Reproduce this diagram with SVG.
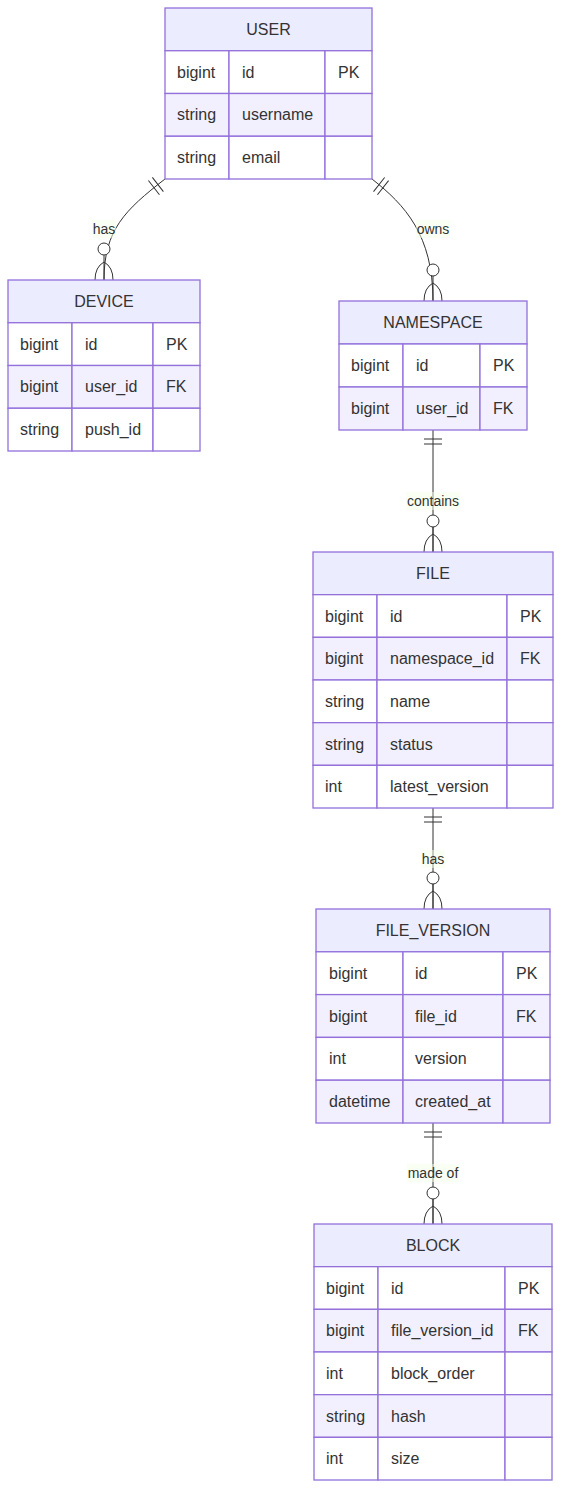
<svg xmlns="http://www.w3.org/2000/svg" width="561" height="1489" viewBox="0 0 561 1489">
<style>
.bg{fill:#ffffff}
.hd{fill:#ececff;stroke:#9370db;stroke-width:1.3}
.ra{fill:#ffffff;stroke:#9370db;stroke-width:1.3}
.rb{fill:#f2f0ff;stroke:#9370db;stroke-width:1.3}
.t{font-family:"Liberation Sans",Arial,Helvetica,sans-serif;font-size:16px;fill:#333333}
.c{text-anchor:middle}
.edge{fill:none;stroke:#333333;stroke-width:1}
.lb{fill:#f4ffe5;opacity:0.5}
.lt{font-family:"Liberation Sans",Arial,Helvetica,sans-serif;font-size:14px;fill:#333333;text-anchor:middle}
.mk{fill:none;stroke:#333333;stroke-width:1}
</style>
<defs>
<marker id="oneStart" markerUnits="userSpaceOnUse" viewBox="0 -10 20 20" refX="0" refY="0" markerWidth="20" markerHeight="20" orient="auto" overflow="visible">
<path class="mk" d="M9,-9 L9,9 M14,-9 L14,9"/>
</marker>
<marker id="zeroManyEnd" markerUnits="userSpaceOnUse" viewBox="-40 -10 42 20" refX="0" refY="0" markerWidth="42" markerHeight="20" orient="auto" overflow="visible">
<circle cx="-31" cy="0" r="6" fill="#ffffff" stroke="#333333" stroke-width="1"/>
<path class="mk" d="M-18,0 Q-13,-9 0,-9 M-18,0 Q-13,9 0,9 M-25,0 L0,0"/>
</marker>
</defs>
<rect class="bg" x="0" y="0" width="561" height="1489"/>

<g id="connectors">
<path class="edge" d="M165,179 C125,210 104,230 104,280" marker-start="url(#oneStart)" marker-end="url(#zeroManyEnd)"/>
<path class="edge" d="M372,179 C405,205 433,235 433,301" marker-start="url(#oneStart)" marker-end="url(#zeroManyEnd)"/>
<path class="edge" d="M433,430 L433,552" marker-start="url(#oneStart)" marker-end="url(#zeroManyEnd)"/>
<path class="edge" d="M433,808 L433,909" marker-start="url(#oneStart)" marker-end="url(#zeroManyEnd)"/>
<path class="edge" d="M433,1123 L433,1224" marker-start="url(#oneStart)" marker-end="url(#zeroManyEnd)"/>
<rect class="lb" x="92" y="220" width="24" height="18"/>
<text class="lt" x="104" y="234">has</text>
<rect class="lb" x="416" y="220" width="34" height="18"/>
<text class="lt" x="433" y="234">owns</text>
<rect class="lb" x="406" y="492" width="54" height="18"/>
<text class="lt" x="433" y="506">contains</text>
<rect class="lb" x="421" y="850" width="24" height="18"/>
<text class="lt" x="433" y="864">has</text>
<rect class="lb" x="407" y="1164" width="52" height="18"/>
<text class="lt" x="433" y="1178">made of</text>
</g>

<g id="USER" transform="translate(165,8)">
<rect class="hd" x="0" y="0" width="207" height="42.75"/>
<text class="t c" x="103.5" y="27">USER</text>
<rect class="ra" x="0" y="42.75" width="64" height="42.75"/><rect class="ra" x="64" y="42.75" width="96" height="42.75"/><rect class="ra" x="160" y="42.75" width="47" height="42.75"/>
<rect class="rb" x="0" y="85.5" width="64" height="42.75"/><rect class="rb" x="64" y="85.5" width="96" height="42.75"/><rect class="rb" x="160" y="85.5" width="47" height="42.75"/>
<rect class="ra" x="0" y="128.25" width="64" height="42.75"/><rect class="ra" x="64" y="128.25" width="96" height="42.75"/><rect class="ra" x="160" y="128.25" width="47" height="42.75"/>
<text class="t" x="12" y="69.6">bigint</text><text class="t" x="77" y="69.6">id</text><text class="t" x="173" y="69.6">PK</text>
<text class="t" x="12" y="112.4">string</text><text class="t" x="77" y="112.4">username</text>
<text class="t" x="12" y="155.1">string</text><text class="t" x="77" y="155.1">email</text>
</g>

<g id="DEVICE" transform="translate(8,280)">
<rect class="hd" x="0" y="0" width="192" height="42.75"/>
<text class="t c" x="96" y="27">DEVICE</text>
<rect class="ra" x="0" y="42.75" width="64" height="42.75"/><rect class="ra" x="64" y="42.75" width="81" height="42.75"/><rect class="ra" x="145" y="42.75" width="47" height="42.75"/>
<rect class="rb" x="0" y="85.5" width="64" height="42.75"/><rect class="rb" x="64" y="85.5" width="81" height="42.75"/><rect class="rb" x="145" y="85.5" width="47" height="42.75"/>
<rect class="ra" x="0" y="128.25" width="64" height="42.75"/><rect class="ra" x="64" y="128.25" width="81" height="42.75"/><rect class="ra" x="145" y="128.25" width="47" height="42.75"/>
<text class="t" x="12" y="69.6">bigint</text><text class="t" x="77" y="69.6">id</text><text class="t" x="158" y="69.6">PK</text>
<text class="t" x="12" y="112.4">bigint</text><text class="t" x="77" y="112.4">user_id</text><text class="t" x="158" y="112.4">FK</text>
<text class="t" x="12" y="155.1">string</text><text class="t" x="77" y="155.1">push_id</text>
</g>

<g id="NAMESPACE" transform="translate(339,301)">
<rect class="hd" x="0" y="0" width="188" height="43"/>
<text class="t c" x="94" y="27">NAMESPACE</text>
<rect class="ra" x="0" y="43" width="64" height="43"/><rect class="ra" x="64" y="43" width="77" height="43"/><rect class="ra" x="141" y="43" width="47" height="43"/>
<rect class="rb" x="0" y="86" width="64" height="43"/><rect class="rb" x="64" y="86" width="77" height="43"/><rect class="rb" x="141" y="86" width="47" height="43"/>
<text class="t" x="12" y="70">bigint</text><text class="t" x="77" y="70">id</text><text class="t" x="154" y="70">PK</text>
<text class="t" x="12" y="113">bigint</text><text class="t" x="77" y="113">user_id</text><text class="t" x="154" y="113">FK</text>
</g>

<g id="FILE" transform="translate(313,552)">
<rect class="hd" x="0" y="0" width="240" height="42.67"/>
<text class="t c" x="120" y="27">FILE</text>
<rect class="ra" x="0" y="42.67" width="64" height="42.67"/><rect class="ra" x="64" y="42.67" width="130" height="42.67"/><rect class="ra" x="194" y="42.67" width="46" height="42.67"/>
<rect class="rb" x="0" y="85.33" width="64" height="42.67"/><rect class="rb" x="64" y="85.33" width="130" height="42.67"/><rect class="rb" x="194" y="85.33" width="46" height="42.67"/>
<rect class="ra" x="0" y="128" width="64" height="42.67"/><rect class="ra" x="64" y="128" width="130" height="42.67"/><rect class="ra" x="194" y="128" width="46" height="42.67"/>
<rect class="rb" x="0" y="170.67" width="64" height="42.67"/><rect class="rb" x="64" y="170.67" width="130" height="42.67"/><rect class="rb" x="194" y="170.67" width="46" height="42.67"/>
<rect class="ra" x="0" y="213.33" width="64" height="42.67"/><rect class="ra" x="64" y="213.33" width="130" height="42.67"/><rect class="ra" x="194" y="213.33" width="46" height="42.67"/>
<text class="t" x="12" y="69.5">bigint</text><text class="t" x="77" y="69.5">id</text><text class="t" x="207" y="69.5">PK</text>
<text class="t" x="12" y="112.2">bigint</text><text class="t" x="77" y="112.2">namespace_id</text><text class="t" x="207" y="112.2">FK</text>
<text class="t" x="12" y="154.8">string</text><text class="t" x="77" y="154.8">name</text>
<text class="t" x="12" y="197.5">string</text><text class="t" x="77" y="197.5">status</text>
<text class="t" x="12" y="240.2">int</text><text class="t" x="77" y="240.2">latest_version</text>
</g>

<g id="FILE_VERSION" transform="translate(316,909)">
<rect class="hd" x="0" y="0" width="234" height="42.8"/>
<text class="t c" x="117" y="27">FILE_VERSION</text>
<rect class="ra" x="0" y="42.8" width="87" height="42.8"/><rect class="ra" x="87" y="42.8" width="100" height="42.8"/><rect class="ra" x="187" y="42.8" width="47" height="42.8"/>
<rect class="rb" x="0" y="85.6" width="87" height="42.8"/><rect class="rb" x="87" y="85.6" width="100" height="42.8"/><rect class="rb" x="187" y="85.6" width="47" height="42.8"/>
<rect class="ra" x="0" y="128.4" width="87" height="42.8"/><rect class="ra" x="87" y="128.4" width="100" height="42.8"/><rect class="ra" x="187" y="128.4" width="47" height="42.8"/>
<rect class="rb" x="0" y="171.2" width="87" height="42.8"/><rect class="rb" x="87" y="171.2" width="100" height="42.8"/><rect class="rb" x="187" y="171.2" width="47" height="42.8"/>
<text class="t" x="13" y="69.7">bigint</text><text class="t" x="99" y="69.7">id</text><text class="t" x="200" y="69.7">PK</text>
<text class="t" x="13" y="112.5">bigint</text><text class="t" x="99" y="112.5">file_id</text><text class="t" x="200" y="112.5">FK</text>
<text class="t" x="13" y="155.3">int</text><text class="t" x="99" y="155.3">version</text>
<text class="t" x="13" y="198.1">datetime</text><text class="t" x="99" y="198.1">created_at</text>
</g>

<g id="BLOCK" transform="translate(314,1224)">
<rect class="hd" x="0" y="0" width="238" height="42.67"/>
<text class="t c" x="119" y="27">BLOCK</text>
<rect class="ra" x="0" y="42.67" width="64" height="42.67"/><rect class="ra" x="64" y="42.67" width="127" height="42.67"/><rect class="ra" x="191" y="42.67" width="47" height="42.67"/>
<rect class="rb" x="0" y="85.33" width="64" height="42.67"/><rect class="rb" x="64" y="85.33" width="127" height="42.67"/><rect class="rb" x="191" y="85.33" width="47" height="42.67"/>
<rect class="ra" x="0" y="128" width="64" height="42.67"/><rect class="ra" x="64" y="128" width="127" height="42.67"/><rect class="ra" x="191" y="128" width="47" height="42.67"/>
<rect class="rb" x="0" y="170.67" width="64" height="42.67"/><rect class="rb" x="64" y="170.67" width="127" height="42.67"/><rect class="rb" x="191" y="170.67" width="47" height="42.67"/>
<rect class="ra" x="0" y="213.33" width="64" height="42.67"/><rect class="ra" x="64" y="213.33" width="127" height="42.67"/><rect class="ra" x="191" y="213.33" width="47" height="42.67"/>
<text class="t" x="12" y="69.5">bigint</text><text class="t" x="77" y="69.5">id</text><text class="t" x="204" y="69.5">PK</text>
<text class="t" x="12" y="112.2">bigint</text><text class="t" x="77" y="112.2">file_version_id</text><text class="t" x="204" y="112.2">FK</text>
<text class="t" x="12" y="154.8">int</text><text class="t" x="77" y="154.8">block_order</text>
<text class="t" x="12" y="197.5">string</text><text class="t" x="77" y="197.5">hash</text>
<text class="t" x="12" y="240.2">int</text><text class="t" x="77" y="240.2">size</text>
</g>
</svg>
